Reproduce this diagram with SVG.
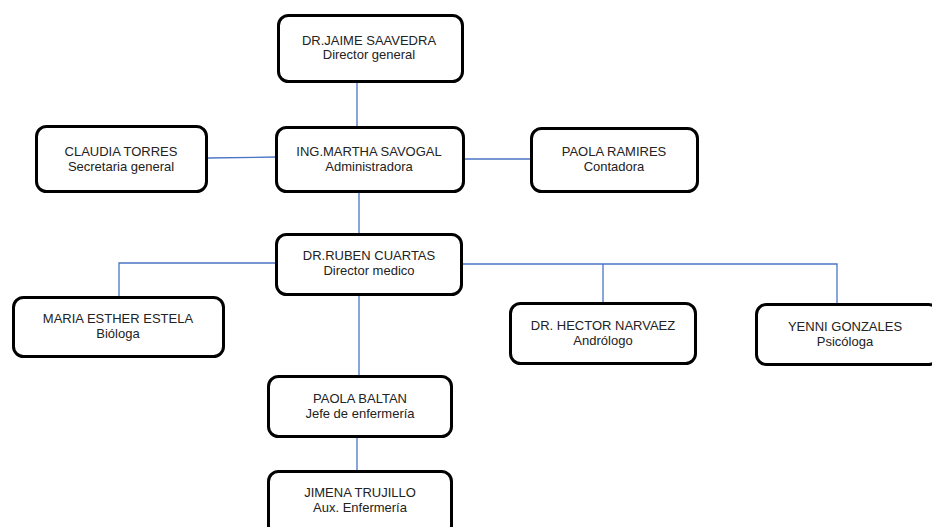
<svg xmlns="http://www.w3.org/2000/svg" width="932" height="527" viewBox="0 0 932 527">
<style>
.box{fill:#fff;stroke:#000;stroke-width:3}
.t{font-family:"Liberation Sans",Arial,sans-serif;font-size:13px;fill:#222;text-anchor:middle}
.c{fill:none;stroke:#4a74c6;stroke-width:1.3}
</style>
<rect width="932" height="527" fill="#fff"/>
<g id="connectors">
<path class="c" d="M357 83V127"/>
<path class="c" d="M207 158L276 157"/>
<path class="c" d="M464 159H531"/>
<path class="c" d="M359 192V234"/>
<path class="c" d="M276 263H119V297"/>
<path class="c" d="M462 264H837V304"/>
<path class="c" d="M603 264V303"/>
<path class="c" d="M359 295V376"/>
<path class="c" d="M357 437V471"/>
</g>
<g id="jaime">
<rect class="box" x="278.5" y="15.5" width="184" height="66" rx="10"/>
<text class="t" x="369" y="45">DR.JAIME SAAVEDRA</text>
<text class="t" x="369" y="59">Director general</text>
</g>
<g id="claudia">
<rect class="box" x="36.5" y="126.5" width="170" height="65" rx="10"/>
<text class="t" x="121" y="156">CLAUDIA TORRES</text>
<text class="t" x="121" y="171">Secretaria general</text>
</g>
<g id="martha">
<rect class="box" x="276.5" y="127.5" width="187" height="64" rx="10"/>
<text class="t" x="369" y="156">ING.MARTHA SAVOGAL</text>
<text class="t" x="369" y="171">Administradora</text>
</g>
<g id="paola-ramires">
<rect class="box" x="531.5" y="128.5" width="166" height="63" rx="10"/>
<text class="t" x="614" y="156">PAOLA RAMIRES</text>
<text class="t" x="614" y="171">Contadora</text>
</g>
<g id="ruben">
<rect class="box" x="276.5" y="234.5" width="185" height="60" rx="10"/>
<text class="t" x="369" y="260">DR.RUBEN CUARTAS</text>
<text class="t" x="369" y="275">Director medico</text>
</g>
<g id="maria">
<rect class="box" x="13.5" y="297.5" width="210" height="59" rx="10"/>
<text class="t" x="118" y="323">MARIA ESTHER ESTELA</text>
<text class="t" x="118" y="338">Bióloga</text>
</g>
<g id="hector">
<rect class="box" x="510.5" y="303.5" width="185" height="60" rx="10"/>
<text class="t" x="603" y="330">DR. HECTOR NARVAEZ</text>
<text class="t" x="603" y="345">Andrólogo</text>
</g>
<g id="yenni">
<rect class="box" x="756.5" y="304.5" width="182" height="60" rx="10"/>
<text class="t" x="845" y="331">YENNI GONZALES</text>
<text class="t" x="845" y="346">Psicóloga</text>
</g>
<g id="paola-baltan">
<rect class="box" x="268.5" y="376.5" width="183" height="60" rx="10"/>
<text class="t" x="360" y="403">PAOLA BALTAN</text>
<text class="t" x="360" y="418">Jefe de enfermería</text>
</g>
<g id="jimena">
<rect class="box" x="268.5" y="471.5" width="183" height="70" rx="10"/>
<text class="t" x="360" y="497">JIMENA TRUJILLO</text>
<text class="t" x="360" y="512">Aux. Enfermería</text>
</g>
</svg>
